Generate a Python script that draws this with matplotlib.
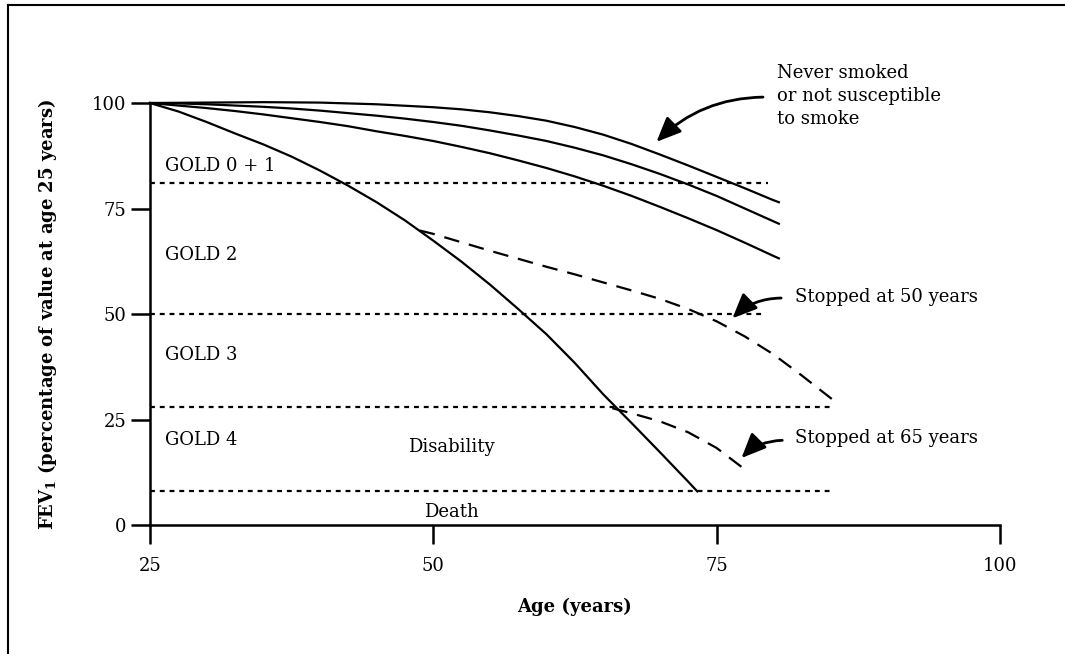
import matplotlib
matplotlib.use("Agg")
import matplotlib.pyplot as plt
from matplotlib.lines import Line2D

plt.rcParams['font.family'] = ['DejaVu Serif']
plt.rcParams['mathtext.fontset'] = 'dejavuserif'

# FEV1 decline curves (age in years, % of value at age 25)
never_age = [25, 30, 35, 40, 45, 50, 52.5, 55, 57.5, 60, 62.5, 65, 67.5,
             70, 72.5, 75, 77.5, 80, 80.5]
never_fev = [100, 100.1, 100.2, 100.1, 99.7, 99.0, 98.5, 97.8, 96.9, 95.8,
             94.3, 92.5, 90.3, 87.8, 85.2, 82.5, 79.8, 77, 76.5]

mild_age = [25, 27.5, 30, 32.5, 35, 37.5, 40, 42.5, 45, 47.5, 50, 52.5, 55,
            57.5, 60, 62.5, 65, 67.5, 70, 72.5, 75, 77.5, 80, 80.5]
mild_fev = [100, 99.9, 99.7, 99.4, 99.1, 98.7, 98.2, 97.6, 97, 96.3, 95.5,
            94.6, 93.5, 92.3, 91, 89.4, 87.6, 85.5, 83.2, 80.7, 78, 75, 72,
            71.4]

moderate_age = [25, 27.5, 30, 32.5, 35, 37.5, 40, 42.5, 45, 47.5, 50, 52.5,
                55, 57.5, 60, 62.5, 65, 67.5, 70, 72.5, 75, 77.5, 80, 80.5]
moderate_fev = [100, 99.4, 98.8, 98.1, 97.3, 96.4, 95.5, 94.5, 93.3, 92.2,
                91, 89.6, 88.1, 86.4, 84.6, 82.6, 80.4, 78, 75.4, 72.7, 69.9,
                66.9, 63.8, 63.2]

smoker_age = [25, 27.5, 30, 32.5, 35, 37.5, 40, 42.5, 45, 47.5, 50, 52.5, 55,
              57.5, 60, 62.5, 65, 67.5, 70, 72.5, 73.3]
smoker_fev = [100, 98, 95.5, 92.8, 90.2, 87.3, 84, 80.4, 76.5, 72.2, 67.4,
              62.4, 57, 51.2, 45.2, 38.4, 31, 24.2, 17.3, 10.3, 8]

stop50_age = [48.8, 50, 52.5, 55, 57.5, 60, 62.5, 65, 67.5, 70, 72.5, 75,
              77.5, 80, 82.5, 85.6]
stop50_fev = [69.8, 69, 67, 65, 63.1, 61.2, 59.4, 57.5, 55.6, 53.6, 51.2,
              48.3, 44.7, 40.5, 35.5, 29]

stop65_age = [65.8, 67.5, 70, 72.5, 75, 77.6]
stop65_fev = [27.7, 26.5, 24.6, 22, 18.3, 13]

# severity thresholds: level, end age
threshold_fev = [81, 50, 28, 8]
threshold_end = [79.5, 79.3, 85, 85]

gold_labels = ["GOLD 0 + 1", "GOLD 2", "GOLD 3", "GOLD 4"]
gold_label_y = [85, 64, 40.3, 20.1]

fig = plt.figure(figsize=(10.65, 6.54), dpi=100)
ax = fig.add_axes([0.1408, 0.197, 0.798, 0.6455])

for lvl, end in zip(threshold_fev, threshold_end):
    ax.plot([25, end], [lvl, lvl], color="black", lw=1.6,
            dashes=(2.2, 2.2), clip_on=False)

for a, f in [(never_age, never_fev), (mild_age, mild_fev),
             (moderate_age, moderate_fev), (smoker_age, smoker_fev)]:
    ax.plot(a, f, color="black", lw=1.6, clip_on=False)

for a, f in [(stop50_age, stop50_fev), (stop65_age, stop65_fev)]:
    ax.plot(a, f, color="black", lw=1.6, dashes=(7, 4.5), clip_on=False)

ax.set_xlim(25, 100)
ax.set_ylim(0, 100)
ax.set_xticks([25, 50, 75, 100])
ax.set_yticks([0, 25, 50, 75, 100])
ax.tick_params(direction="out", length=14, width=1.8, labelsize=13)
ax.tick_params(axis="x", pad=9)
ax.tick_params(axis="y", pad=3)
for side in ["top", "right"]:
    ax.spines[side].set_visible(False)
for side in ["left", "bottom"]:
    ax.spines[side].set_linewidth(1.8)

ax.set_xlabel("Age (years)", fontsize=13, fontweight="bold", labelpad=16)
ax.set_ylabel(r"FEV$_\mathbf{1}$ (percentage of value at age 25 years)",
              fontsize=13, fontweight="bold", labelpad=24)

txt = dict(fontsize=13, va="center", ha="left")
for lab, y in zip(gold_labels, gold_label_y):
    ax.text(26.3, y, lab, **txt)
ax.text(47.8, 18.5, "Disability", **txt)
ax.text(49.2, 3, "Death", **txt)

arrow = dict(arrowstyle="-|>,head_length=1.5,head_width=0.65",
             color="black", lw=2, shrinkA=0, shrinkB=0)
ax.text(80.3, 109.2, "Never smoked\nor not susceptible\nto smoke",
        fontsize=13, va="top", ha="left", linespacing=1.35)
ax.annotate("", xy=(69.7, 90.8), xytext=(79.1, 101.4), annotation_clip=False,
            arrowprops=dict(connectionstyle="arc3,rad=0.2", **arrow))
ax.text(81.9, 54, "Stopped at 50 years", **txt)
ax.annotate("", xy=(76.4, 49), xytext=(80.7, 53.8), annotation_clip=False,
            arrowprops=dict(connectionstyle="arc3,rad=0.2", **arrow))
ax.text(81.9, 20.6, "Stopped at 65 years", **txt)
ax.annotate("", xy=(77.2, 15.9), xytext=(80.8, 20.1), annotation_clip=False,
            arrowprops=dict(connectionstyle="arc3,rad=0.2", **arrow))

# frame around the figure (top and left edges)
fig.add_artist(Line2D([8 / 1065, 1], [1 - 5 / 654, 1 - 5 / 654],
                      color="black", lw=1.5))
fig.add_artist(Line2D([8 / 1065, 8 / 1065], [0, 1 - 5 / 654],
                      color="black", lw=1.5))

fig.savefig("out.png", dpi=100)
